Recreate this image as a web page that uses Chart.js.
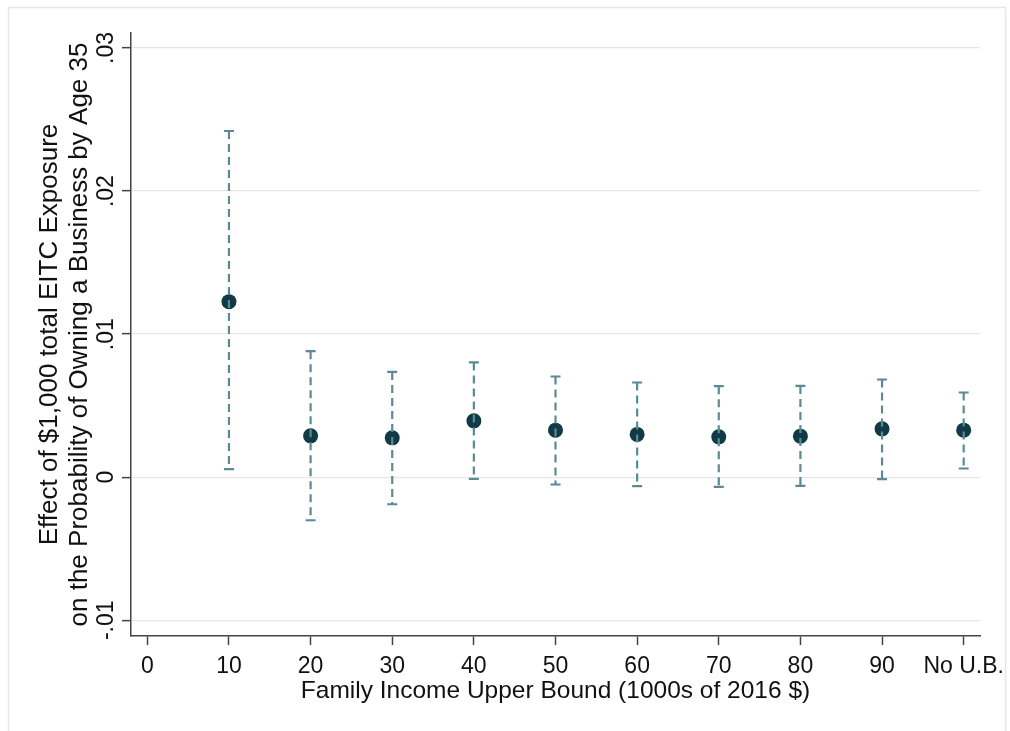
<!DOCTYPE html>
<html>
<head>
<meta charset="utf-8">
<script src="https://cdn.jsdelivr.net/npm/chart.js@4/dist/chart.umd.min.js"></script>
<style>
  html, body { margin: 0; padding: 0; background: #fff; }
  canvas { display: block; }
</style>
</head>
<body>
<canvas id="eitc-chart" width="1010" height="731"></canvas>
<script>
const ctx = document.getElementById("eitc-chart");

// data
const incomeBounds = [10, 20, 30, 40, 50, 60, 70, 80, 90, 100];
const estimates = [0.01227, 0.00289, 0.00275, 0.00394, 0.00329, 0.00299, 0.00282, 0.00287, 0.00338, 0.00329];
const ciLower = [0.00056, -0.00301, -0.00189, -0.00012, -0.00051, -0.00063, -0.00068, -0.00061, -0.00014, 0.00061];
const ciUpper = [0.0242, 0.00881, 0.00736, 0.00802, 0.00704, 0.00662, 0.00636, 0.00638, 0.00683, 0.00592];

const xTickValues = [0, 10, 20, 30, 40, 50, 60, 70, 80, 90, 100];
const xTickLabels = ["0", "10", "20", "30", "40", "50", "60", "70", "80", "90", "No U.B."];
const yTickValues = [-0.01, 0, 0.01, 0.02, 0.03];
const yTickLabels = ["-.01", "0", ".01", ".02", ".03"];

const font = "'Liberation Sans', Arial, sans-serif";
const textColor = "#111";
const axisColor = "#444";

// frame + white background
const framePlugin = {
  id: "frame",
  beforeDraw(chart) {
    const c = chart.ctx;
    c.save();
    c.fillStyle = "#fff";
    c.fillRect(0, 0, chart.width, chart.height);
    c.strokeStyle = "#e6e6e6";
    c.lineWidth = 1.5;
    c.strokeRect(8.5, 7.5, 997, 740);
    c.restore();
  },
};

// dashed CI bars with caps, placed through the chart scales
const errorBarPlugin = {
  id: "errorBars",
  afterDatasetsDraw(chart) {
    const c = chart.ctx;
    const xs = chart.scales.x;
    const ys = chart.scales.y;
    c.save();
    c.strokeStyle = "#5a8b95";
    c.lineWidth = 2.2;
    incomeBounds.forEach((b, i) => {
      const x = xs.getPixelForValue(b);
      const yTop = ys.getPixelForValue(ciUpper[i]);
      const yBot = ys.getPixelForValue(ciLower[i]);
      c.setLineDash([8, 5]);
      c.beginPath();
      c.moveTo(x, yTop);
      c.lineTo(x, yBot);
      c.stroke();
      c.setLineDash([]);
      c.beginPath();
      c.moveTo(x - 5, yTop);
      c.lineTo(x + 5, yTop);
      c.moveTo(x - 5, yBot);
      c.lineTo(x + 5, yBot);
      c.stroke();
    });
    c.restore();
  },
};

new Chart(ctx, {
  type: "scatter",
  data: {
    datasets: [
      {
        data: incomeBounds.map((b, i) => ({ x: b, y: estimates[i] })),
        pointRadius: 7.5,
        pointBackgroundColor: "#113a46",
        pointBorderColor: "#113a46",
        pointBorderWidth: 0,
      },
    ],
  },
  options: {
    responsive: false,
    animation: false,
    devicePixelRatio: 1,
    layout: { padding: { top: 33, right: 30, left: 0, bottom: 0 } },
    plugins: {
      legend: { display: false },
      tooltip: { enabled: false },
    },
    scales: {
      x: {
        type: "linear",
        min: -2,
        max: 102,
        afterBuildTicks: (s) => {
          s.ticks = xTickValues.map((v) => ({ value: v }));
        },
        afterFit: (s) => {
          s.height = 95;
          s.paddingLeft = 0;
          s.paddingRight = 0;
        },
        ticks: {
          autoSkip: false,
          maxRotation: 0,
          padding: 8,
          color: textColor,
          font: { family: font, size: 23 },
          callback: (v) => xTickLabels[xTickValues.indexOf(v)],
        },
        grid: {
          drawOnChartArea: false,
          tickLength: 9,
          tickColor: axisColor,
          tickWidth: 1.5,
        },
        border: { color: axisColor, width: 1.5 },
        title: {
          display: true,
          text: "Family Income Upper Bound (1000s of 2016 $)",
          color: textColor,
          font: { family: font, size: 24.5, lineHeight: 1.2 },
          padding: { top: 0, bottom: 25 },
        },
      },
      y: {
        min: -0.0111,
        max: 0.03105,
        afterBuildTicks: (s) => {
          s.ticks = yTickValues.map((v) => ({ value: v }));
        },
        afterFit: (s) => {
          s.width = 131;
        },
        ticks: {
          minRotation: 90,
          maxRotation: 90,
          crossAlign: "center",
          padding: -4,
          color: textColor,
          font: { family: font, size: 23 },
          callback: (v) => yTickLabels[yTickValues.indexOf(v)],
        },
        grid: {
          color: "#e6e6e6",
          lineWidth: 1.3,
          tickLength: 9,
          tickColor: axisColor,
          tickWidth: 1.5,
        },
        border: { color: axisColor, width: 1.5 },
        title: {
          display: true,
          text: [
            "Effect of $1,000 total EITC Exposure",
            "on the Probability of Owning a Business by Age 35",
          ],
          color: textColor,
          font: { family: font, size: 26, lineHeight: 1.154 },
          padding: { top: 35, bottom: 0 },
        },
      },
    },
  },
  plugins: [framePlugin, errorBarPlugin],
});
</script>
</body>
</html>
